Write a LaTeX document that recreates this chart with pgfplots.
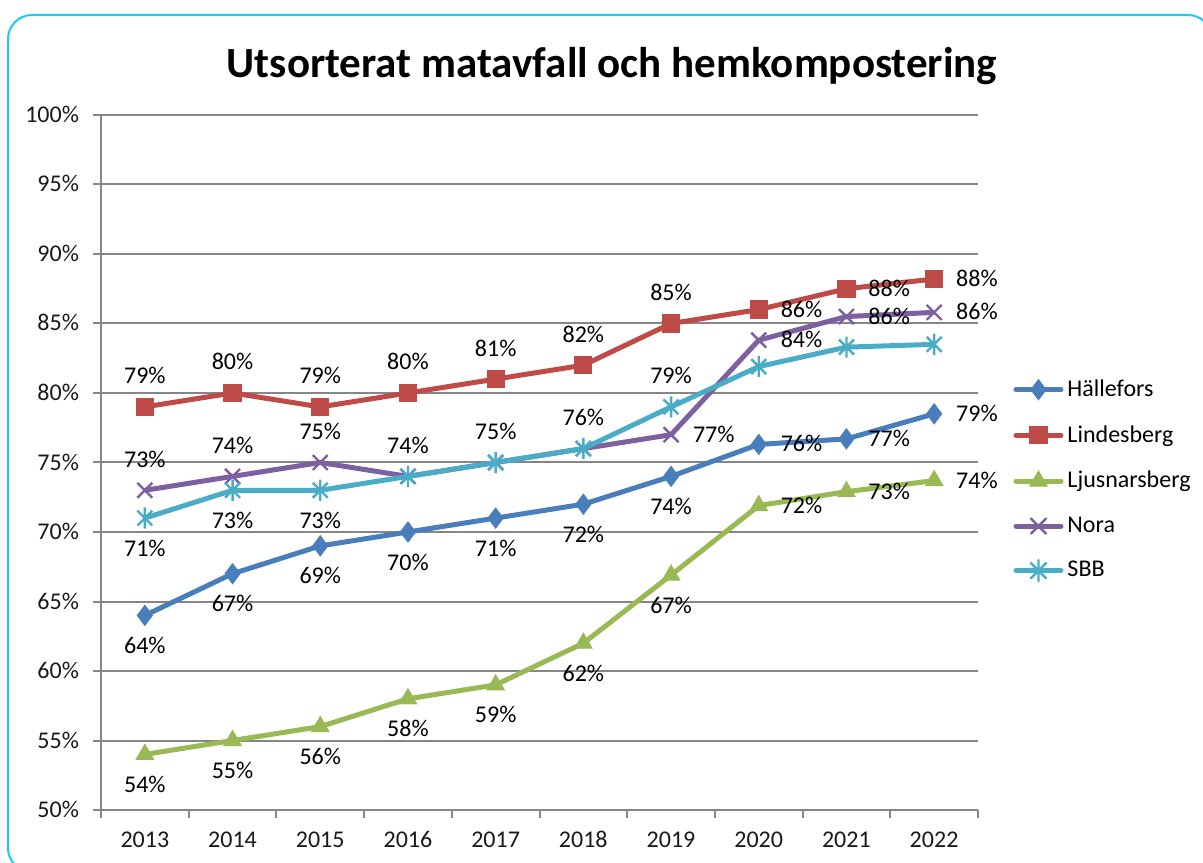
\documentclass[border=0pt]{standalone}
\usepackage{fontspec}
\setmainfont{Carlito}
\usepackage{pgfplots}
\pgfplotsset{compat=1.18}

\definecolor{hal}{HTML}{4A7EBB}
\definecolor{lin}{HTML}{BE4B48}
\definecolor{lju}{HTML}{98B954}
\definecolor{nor}{HTML}{7D60A0}
\definecolor{sbb}{HTML}{4BACC6}
\definecolor{gridgray}{HTML}{868686}
\definecolor{framecol}{HTML}{1FC8F0}

% Excel style star: x with a vertical bar
\pgfdeclareplotmark{xstar}{%
  \pgfpathmoveto{\pgfqpoint{-.7071\pgfplotmarksize}{-.7071\pgfplotmarksize}}%
  \pgfpathlineto{\pgfqpoint{.7071\pgfplotmarksize}{.7071\pgfplotmarksize}}%
  \pgfpathmoveto{\pgfqpoint{-.7071\pgfplotmarksize}{.7071\pgfplotmarksize}}%
  \pgfpathlineto{\pgfqpoint{.7071\pgfplotmarksize}{-.7071\pgfplotmarksize}}%
  \pgfpathmoveto{\pgfqpoint{0pt}{-\pgfplotmarksize}}%
  \pgfpathlineto{\pgfqpoint{0pt}{\pgfplotmarksize}}%
  \pgfusepathqstroke}

\pgfplotsset{
  labs/.style={
    nodes near coords,
    point meta=explicit symbolic,
    visualization depends on={value \thisrow{a}\as\myanchor},
    every node near coord/.append style={anchor=\myanchor, text=black,
      font=\fontsize{12}{14}\selectfont, inner sep=0pt, outer sep=11pt,
      text height=8pt, text depth=0.5pt},
  },
}

\begin{document}
\begin{tikzpicture}
\useasboundingbox (0,0) rectangle (601.5pt,431pt);
\draw[framecol, line width=1pt, rounded corners=12pt] (4pt,-5pt) rectangle (606pt,423.5pt);
\node[font=\fontsize{21.5}{24}\selectfont\bfseries, anchor=base] at (306pt,392pt)
  {Utsorterat matavfall och hemkompostering};

\begin{axis}[
  at={(50.5pt,26pt)}, anchor=south west,
  scale only axis, width=438.5pt, height=347.5pt,
  xmin=2012.5, xmax=2022.5, ymin=50, ymax=100,
  axis x line*=bottom, axis y line*=left,
  axis line style={gridgray, line width=1pt, -},
  xtick={2013,...,2022},
  minor xtick={2012.5,2013.5,...,2022.5},
  ytick={50,55,...,100},
  minor ytick={50,55,...,100},
  major tick length=0pt, minor tick length=4pt,
  tick align=outside,
  tick style={gridgray, line width=1pt},
  ymajorgrids, major grid style={gridgray, line width=1pt},
  /pgf/number format/assume math mode=true,
  tick label style={font=\fontsize{12}{14}\selectfont, text=black!90,
    text height=8pt, text depth=0.5pt},
  yticklabel={\pgfmathprintnumber{\tick}\%},
  yticklabel style={xshift=-7.5pt},
  xticklabel style={/pgf/number format/1000 sep={}, yshift=-7pt},
  clip=false,
  legend style={draw=none, fill=none, at={(1.04,0.475)}, anchor=west,
    font=\fontsize{12}{14}\selectfont, row sep=9pt, inner sep=0pt},
  legend cell align=left,
  legend image code/.code={\draw[mark repeat=2,mark phase=2,line cap=round,#1]
    plot coordinates {(0pt,0pt) (11.25pt,0pt) (22.5pt,0pt)};},
]

% Hällefors
\addplot[hal, line width=2.5pt, mark=diamond*, mark size=5pt,
  mark options={solid, line width=0.5pt}, labs] table[meta=l] {
x y l a
2013 64 64\% north
2014 67 67\% north
2015 69 69\% north
2016 70 70\% north
2017 71 71\% north
2018 72 72\% north
2019 74 74\% north
2020 76.3 76\% west
2021 76.7 77\% west
2022 78.5 79\% west
};
\addlegendentry{Hällefors}

% Lindesberg
\addplot[lin, line width=2.5pt, mark=square*, mark size=4.3pt,
  mark options={solid, line width=0.5pt}, labs] table[meta=l] {
x y l a
2013 79 79\% south
2014 80 80\% south
2015 79 79\% south
2016 80 80\% south
2017 81 81\% south
2018 82 82\% south
2019 85 85\% south
2020 86.0 86\% west
2021 87.5 88\% west
2022 88.2 88\% west
};
\addlegendentry{Lindesberg}

% Ljusnarsberg
\addplot[lju, line width=2.5pt, mark=triangle*, mark size=5pt,
  mark options={solid, line width=0.5pt}, labs] table[meta=l] {
x y l a
2013 54 54\% north
2014 55 55\% north
2015 56 56\% north
2016 58 58\% north
2017 59 59\% north
2018 62 62\% north
2019 66.9 67\% north
2020 71.9 72\% west
2021 72.9 73\% west
2022 73.7 74\% west
};
\addlegendentry{Ljusnarsberg}

% Nora
\addplot[nor, line width=2.5pt, mark=x, mark size=5.3pt,
  mark options={solid, line width=1.2pt}, labs] table[meta=l] {
x y l a
2013 73 73\% south
2014 74 74\% south
2015 75 75\% south
2016 74 74\% south
2017 75 75\% south
2018 76 76\% south
2019 77 77\% west
2020 83.8 84\% west
2021 85.5 86\% west
2022 85.8 86\% west
};
\addlegendentry{Nora}

% SBB
\addplot[sbb, line width=2.5pt, mark=xstar, mark size=5.3pt,
  mark options={solid, line width=1.2pt}, labs] table[meta=l] {
x y l a
2013 71 71\% north
2014 73 73\% north
2015 73 73\% north
2016 74 {} north
2017 75 {} north
2018 76 {} north
2019 79 79\% south
2020 81.9 {} north
2021 83.3 {} north
2022 83.5 {} north
};
\addlegendentry{SBB}

\end{axis}
\end{tikzpicture}
\end{document}
